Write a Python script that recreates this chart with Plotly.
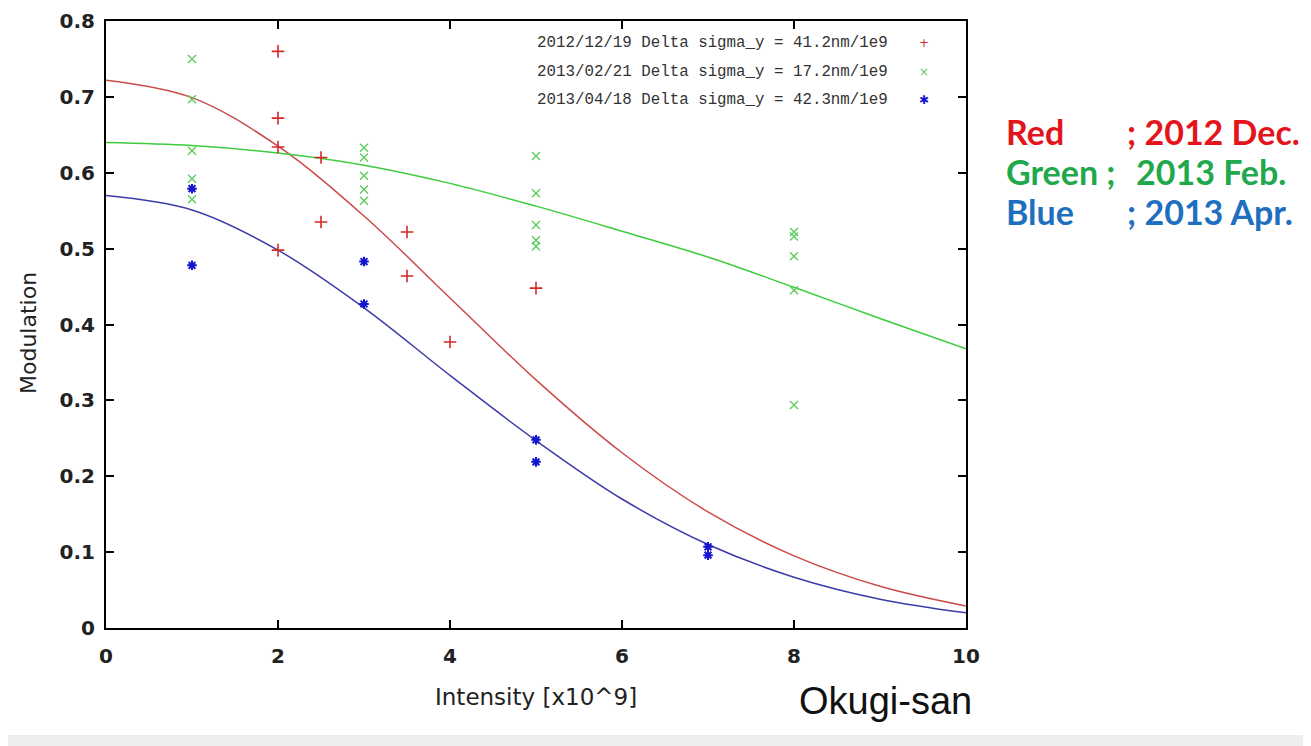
import plotly.graph_objects as go

# ---------------- data ----------------
curve_x = [0, 1, 2, 3, 4, 5, 6, 7, 8, 9, 10]
red_curve = [0.722, 0.699, 0.635, 0.543, 0.435, 0.327, 0.231, 0.153, 0.095, 0.055, 0.029]
green_curve = [0.640, 0.636, 0.626, 0.610, 0.586, 0.556, 0.523, 0.489, 0.449, 0.408, 0.368]
blue_curve = [0.570, 0.551, 0.498, 0.422, 0.333, 0.247, 0.170, 0.110, 0.067, 0.038, 0.020]

red_x = [2, 2, 2, 2, 2.5, 2.5, 3.5, 3.5, 4, 5]
red_y = [0.760, 0.672, 0.634, 0.498, 0.620, 0.535, 0.522, 0.464, 0.377, 0.448]

green_x = [1, 1, 1, 1, 1, 3, 3, 3, 3, 3, 5, 5, 5, 5, 5, 8, 8, 8, 8, 8]
green_y = [0.750, 0.697, 0.629, 0.592, 0.565,
           0.633, 0.620, 0.596, 0.578, 0.563,
           0.622, 0.573, 0.531, 0.511, 0.503,
           0.522, 0.516, 0.490, 0.445, 0.294]

blue_x = [1, 1, 3, 3, 5, 5, 7, 7]
blue_y = [0.579, 0.478, 0.483, 0.427, 0.248, 0.219, 0.107, 0.096]

series_names = ["2012/12/19 Delta sigma_y = 41.2nm/1e9",
                "2013/02/21 Delta sigma_y = 17.2nm/1e9",
                "2013/04/18 Delta sigma_y = 42.3nm/1e9"]
legend_glyphs = ["+", "×", "✱"]

x_ticks = [0, 2, 4, 6, 8, 10]
y_ticks = [0, 0.1, 0.2, 0.3, 0.4, 0.5, 0.6, 0.7, 0.8]
y_ticktext = ["0", "0.1", "0.2", "0.3", "0.4", "0.5", "0.6", "0.7", "0.8"]

side_labels = ["Red", "Green ;", "Blue"]
side_dates = ["; 2012 Dec.", "2013 Feb.", "; 2013 Apr."]
side_colors = ["#e4141c", "#22a84c", "#1f6fc0"]

# ---------------- styles ----------------
curve_colors = ["#cc4a4a", "#3ccc3c", "#3c3ca8"]
marker_colors = ["#d42a2a", "#5ccc5c", "#1414d0"]

fig = go.Figure()

for cy, col in zip([red_curve, green_curve, blue_curve], curve_colors):
    fig.add_trace(go.Scatter(x=curve_x, y=cy, mode="lines",
                             line=dict(color=col, width=1.5, shape="spline", smoothing=1.0),
                             showlegend=False, hoverinfo="skip"))

fig.add_trace(go.Scatter(x=red_x, y=red_y, mode="markers", name=series_names[0],
                         marker=dict(symbol="cross-thin-open", size=9, color=marker_colors[0],
                                     line=dict(color=marker_colors[0], width=1.6)),
                         showlegend=False))
fig.add_trace(go.Scatter(x=green_x, y=green_y, mode="markers", name=series_names[1],
                         marker=dict(symbol="x-thin-open", size=8, color=marker_colors[1],
                                     line=dict(color=marker_colors[1], width=1.4)),
                         showlegend=False))
fig.add_trace(go.Scatter(x=blue_x, y=blue_y, mode="markers", name=series_names[2],
                         marker=dict(symbol="asterisk-open", size=8, color=marker_colors[2],
                                     line=dict(color=marker_colors[2], width=2)),
                         showlegend=False))

# page layout (the page body has an 8px margin)
OFF = 8
PAGE_W, PAGE_H = 1311, 746
PL, PR, PT, PB = 106, 966, 21, 628      # plot area edges in page pixels
W, H = PAGE_W - OFF, PAGE_H - OFF
L, T = PL - OFF, PT - OFF
R, B = W - (PR - OFF), H - (PB - OFF)
pw, ph = PR - PL, PB - PT


def px(xp):
    return (xp - PL) / pw


def py(yp):
    return (PB - yp) / ph


annotations = []
# in-plot legend (gnuplot style: text then symbol)
for i, (name, glyph, col) in enumerate(zip(series_names, legend_glyphs, marker_colors)):
    yy = py(43 + 28.5 * i)
    annotations.append(dict(x=px(890), y=yy, xref="paper", yref="paper", text=name,
                            showarrow=False, xanchor="right", yanchor="middle",
                            font=dict(family="Liberation Mono", size=15.8, color="#333333")))
    annotations.append(dict(x=px(924), y=yy, xref="paper", yref="paper", text=glyph,
                            showarrow=False, xanchor="center", yanchor="middle",
                            font=dict(family="DejaVu Sans", size=12, color=col)))

# side notes
date_x = [1125, 1134, 1125]
for i, (lab, dt, col, dx) in enumerate(zip(side_labels, side_dates, side_colors, date_x)):
    yy = py(131 + 40 * i)
    annotations.append(dict(x=px(1004), y=yy, xref="paper", yref="paper", text="<b>" + lab + "</b>",
                            showarrow=False, xanchor="left", yanchor="middle",
                            font=dict(family="Lato", size=34, color=col)))
    annotations.append(dict(x=px(dx), y=yy, xref="paper", yref="paper", text="<b>" + dt + "</b>",
                            showarrow=False, xanchor="left", yanchor="middle",
                            font=dict(family="Lato", size=34, color=col)))

# axis titles
annotations.append(dict(x=px(28), y=py(333), xref="paper", yref="paper", text="Modulation",
                        showarrow=False, textangle=-90, xanchor="center", yanchor="middle",
                        font=dict(family="DejaVu Sans", size=22, color="#222222")))
annotations.append(dict(x=px(536), y=py(697), xref="paper", yref="paper", text="Intensity [x10^9]",
                        showarrow=False, xanchor="center", yanchor="middle",
                        font=dict(family="DejaVu Sans", size=23, color="#222222")))
annotations.append(dict(x=px(885), y=py(701), xref="paper", yref="paper", text="Okugi-san",
                        showarrow=False, xanchor="center", yanchor="middle",
                        font=dict(family="Liberation Sans", size=38, color="#111111")))

fig.update_layout(
    width=W, height=H,
    margin=dict(l=L, r=R, t=T, b=B, pad=0, autoexpand=False),
    paper_bgcolor="white", plot_bgcolor="white",
    annotations=annotations,
    shapes=[dict(type="rect", xref="paper", yref="paper",
                 x0=px(0), x1=px(PAGE_W), y0=py(PAGE_H), y1=py(735),
                 fillcolor="#ededed", line=dict(width=0), layer="below")],
    xaxis=dict(range=[0, 10], tickvals=x_ticks, ticks="inside", ticklen=8, tickwidth=2,
               tickcolor="black", showline=True, linecolor="black", linewidth=2,
               mirror="ticks", showgrid=False, zeroline=False, automargin=False,
               tickfont=dict(family="DejaVu Sans", size=20, color="#222222", weight="bold"),
               ticklabelstandoff=9),
    yaxis=dict(range=[0, 0.8], tickvals=y_ticks, ticktext=y_ticktext, ticks="inside",
               ticklen=8, tickwidth=2, tickcolor="black", showline=True, linecolor="black",
               linewidth=2, mirror="ticks", showgrid=False, zeroline=False, automargin=False,
               tickfont=dict(family="DejaVu Sans", size=20, color="#222222", weight="bold"),
               ticklabelstandoff=5),
)

fig.write_html("out.html")
